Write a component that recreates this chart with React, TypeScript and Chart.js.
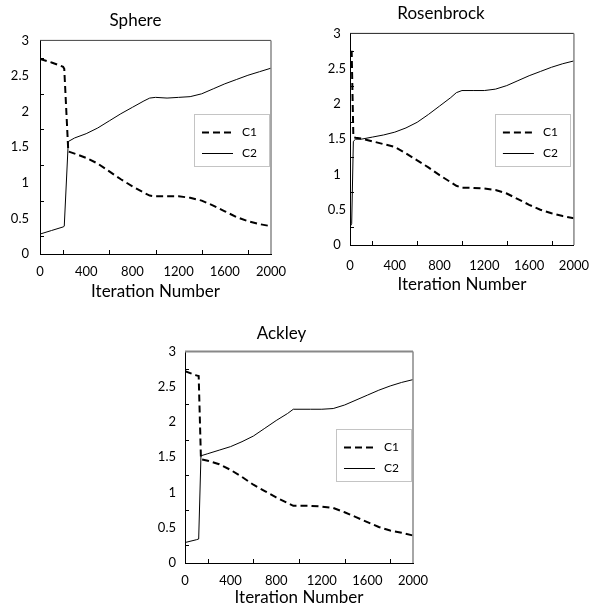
import React, { useEffect, useRef } from "react";
import { Chart, registerables } from "chart.js";

Chart.register(...registerables);

// ---------------- data ----------------
const seriesNames = ["C1", "C2"];
const xAxisTitle = "Iteration Number";
const yMinorTicks = [0.25, 0.75, 1.25, 1.75, 2.25, 2.75];
const xMinorTicks = [200, 600, 1000, 1400, 1800];

const sphereTitle = "Sphere";
const sphereX = [0, 100, 200, 210, 245, 300, 400, 500, 600, 700, 800, 900, 950, 1000, 1100, 1200, 1300, 1400, 1500, 1600, 1700, 1800, 1900, 2000];
const sphereC1 = [2.74, 2.69, 2.63, 2.6, 1.44, 1.41, 1.35, 1.27, 1.16, 1.05, 0.95, 0.86, 0.82, 0.81, 0.81, 0.81, 0.79, 0.75, 0.68, 0.6, 0.52, 0.46, 0.42, 0.39];
const sphereC2 = [0.28, 0.33, 0.38, 0.39, 1.58, 1.63, 1.69, 1.77, 1.87, 1.97, 2.06, 2.15, 2.19, 2.2, 2.19, 2.2, 2.21, 2.25, 2.32, 2.39, 2.45, 2.51, 2.56, 2.61];

const rosenTitle = "Rosenbrock";
const rosenX = [0, 15, 30, 50, 100, 200, 300, 400, 500, 600, 700, 800, 900, 950, 1000, 1100, 1200, 1300, 1400, 1500, 1600, 1700, 1800, 1900, 2000];
const rosenC1 = [2.74, 2.74, 1.53, 1.52, 1.51, 1.47, 1.43, 1.39, 1.3, 1.2, 1.1, 0.99, 0.89, 0.84, 0.81, 0.81, 0.8, 0.78, 0.73, 0.65, 0.57, 0.5, 0.45, 0.41, 0.38];
const rosenC2 = [0.26, 0.3, 1.47, 1.5, 1.5, 1.53, 1.56, 1.6, 1.66, 1.74, 1.85, 1.97, 2.09, 2.16, 2.19, 2.19, 2.19, 2.21, 2.26, 2.33, 2.4, 2.46, 2.52, 2.57, 2.61];

const ackleyTitle = "Ackley";
const ackleyX = [0, 100, 120, 140, 200, 300, 400, 500, 600, 700, 800, 900, 950, 1000, 1100, 1200, 1300, 1400, 1500, 1600, 1700, 1800, 1900, 2000];
const ackleyC1 = [2.72, 2.66, 2.65, 1.47, 1.45, 1.4, 1.32, 1.22, 1.11, 1.02, 0.93, 0.85, 0.81, 0.81, 0.81, 0.8, 0.78, 0.72, 0.65, 0.58, 0.51, 0.46, 0.43, 0.39];
const ackleyC2 = [0.29, 0.33, 0.34, 1.52, 1.55, 1.6, 1.65, 1.72, 1.8, 1.91, 2.02, 2.12, 2.18, 2.18, 2.18, 2.18, 2.19, 2.24, 2.31, 2.38, 2.45, 2.51, 2.56, 2.6];

// ---------------- styling ----------------
const FONT = "Lato, 'Open Sans', sans-serif";

type Spec = {
  title: string;
  xs: number[];
  c1: number[];
  c2: number[];
  left: number;
  top: number;
  width: number;
  height: number;
  yWidth: number;
  xHeight: number;
  padRight: number;
  titlePad: { top: number; bottom: number };
  xLabelPad: number;
  yLabelPad: number;
  yCross: "near" | "center";
  xTitlePadBottom: number;
  legendTopFrac: number;
  legendRightGap: number;
  frameTop: string;
  frameTopWidth: number;
  frameRight: string;
  frameRightWidth: number;
};

const specs: Spec[] = [
  {
    title: sphereTitle, xs: sphereX, c1: sphereC1, c2: sphereC2,
    left: 0, top: 0, width: 300, height: 300,
    yWidth: 40, xHeight: 46, padRight: 29,
    titlePad: { top: 10, bottom: 10 }, xLabelPad: 10, yLabelPad: 11, yCross: "near",
    xTitlePadBottom: 0, legendTopFrac: 0.344, legendRightGap: 2,
    frameTop: "#444", frameTopWidth: 1, frameRight: "#888", frameRightWidth: 1.5,
  },
  {
    title: rosenTitle, xs: rosenX, c1: rosenC1, c2: rosenC2,
    left: 300, top: 0, width: 302, height: 300,
    yWidth: 50, xHeight: 55, padRight: 20,
    titlePad: { top: 3, bottom: 10 }, xLabelPad: 13, yLabelPad: 4, yCross: "center",
    xTitlePadBottom: 6.5, legendTopFrac: 0.381, legendRightGap: 4,
    frameTop: "#222", frameTopWidth: 1, frameRight: "#888", frameRightWidth: 1.5,
  },
  {
    title: ackleyTitle, xs: ackleyX, c1: ackleyC1, c2: ackleyC2,
    left: 150, top: 300, width: 300, height: 307,
    yWidth: 35, xHeight: 44, padRight: 37,
    titlePad: { top: 23, bottom: 8 }, xLabelPad: 10, yLabelPad: 9, yCross: "near",
    xTitlePadBottom: 0.5, legendTopFrac: 0.366, legendRightGap: 2,
    frameTop: "#888", frameTopWidth: 2, frameRight: "#888", frameRightWidth: 1.5,
  },
];

function makePlugins(spec: Spec) {
  const frame = {
    id: "frameLines",
    afterDatasetsDraw(chart: any) {
      const { ctx, chartArea: a } = chart;
      ctx.save();
      ctx.strokeStyle = spec.frameTop;
      ctx.lineWidth = spec.frameTopWidth;
      ctx.beginPath();
      ctx.moveTo(a.left, a.top);
      ctx.lineTo(a.right, a.top);
      ctx.stroke();
      ctx.strokeStyle = spec.frameRight;
      ctx.lineWidth = spec.frameRightWidth;
      ctx.beginPath();
      ctx.moveTo(a.right, a.top);
      ctx.lineTo(a.right, a.bottom);
      ctx.stroke();
      // inner tick marks
      const xs = chart.scales.x;
      const ys = chart.scales.y;
      ctx.strokeStyle = "#000";
      ctx.lineWidth = 1;
      ctx.beginPath();
      for (const v of yMinorTicks) {
        const py = Math.round(ys.getPixelForValue(v)) + 0.5;
        ctx.moveTo(a.left, py);
        ctx.lineTo(a.left + 4, py);
      }
      for (const v of xMinorTicks) {
        const px = Math.round(xs.getPixelForValue(v)) + 0.5;
        ctx.moveTo(px, a.bottom);
        ctx.lineTo(px, a.bottom - 4);
      }
      ctx.stroke();
      ctx.restore();
    },
  };

  const legendBox = {
    id: "legendBox",
    afterDraw(chart: any) {
      const { ctx, chartArea: a } = chart;
      const w = 75;
      const h = 52;
      const right = a.right - spec.legendRightGap;
      const left = right - w;
      const top = a.top + (a.bottom - a.top) * spec.legendTopFrac;
      ctx.save();
      ctx.fillStyle = "#fff";
      ctx.fillRect(left, top, w, h);
      ctx.strokeStyle = "#c4c4c4";
      ctx.lineWidth = 1;
      ctx.strokeRect(Math.round(left) + 0.5, Math.round(top) + 0.5, w, h);
      chart.data.datasets.forEach((ds: any, i: number) => {
        const y = Math.round(top + 18 + i * 21) + 0.5;
        ctx.strokeStyle = ds.borderColor;
        ctx.lineWidth = ds.borderWidth;
        ctx.setLineDash(ds.borderDash || []);
        ctx.beginPath();
        ctx.moveTo(left + 8, y);
        ctx.lineTo(left + 39, y);
        ctx.stroke();
        ctx.setLineDash([]);
        ctx.fillStyle = "#000";
        ctx.font = `12px ${FONT}`;
        ctx.textBaseline = "middle";
        ctx.textAlign = "left";
        ctx.fillText(ds.label, left + 48, y);
      });
      ctx.restore();
    },
  };
  return [frame, legendBox];
}

function buildChart(canvas: HTMLCanvasElement, spec: Spec) {
  const c1 = spec.xs.map((x, i) => ({ x, y: spec.c1[i] }));
  const c2 = spec.xs.map((x, i) => ({ x, y: spec.c2[i] }));
  return new Chart(canvas, {
    type: "scatter",
    data: {
      datasets: [
        {
          label: seriesNames[0],
          data: c1,
          showLine: true,
          borderColor: "#000",
          backgroundColor: "#000",
          borderWidth: 2,
          borderDash: [7, 4],
          pointRadius: 0,
          tension: 0,
        },
        {
          label: seriesNames[1],
          data: c2,
          showLine: true,
          borderColor: "#000",
          backgroundColor: "#000",
          borderWidth: 1,
          pointRadius: 0,
          tension: 0,
        },
      ],
    },
    options: {
      responsive: false,
      animation: false,
      events: [],
      layout: { padding: { left: 0, top: 0, right: spec.padRight, bottom: 0 } },
      plugins: {
        legend: { display: false },
        tooltip: { enabled: false },
        title: {
          display: true,
          text: spec.title,
          color: "#000",
          font: { family: FONT, size: 17, weight: "normal" },
          padding: spec.titlePad,
        },
      },
      scales: {
        x: {
          type: "linear",
          min: 0,
          max: 2000,
          ticks: {
            stepSize: 400,
            color: "#000",
            font: { family: FONT, size: 13 },
            padding: spec.xLabelPad,
            maxRotation: 0,
            autoSkip: false,
            callback: (v: any) => String(v),
          },
          grid: { display: false, drawTicks: false },
          border: { display: true, color: "#000", width: 1 },
          title: {
            display: true,
            text: xAxisTitle,
            color: "#000",
            font: { family: FONT, size: 17, lineHeight: 1 },
            padding: { top: 0, bottom: spec.xTitlePadBottom },
          },
          afterFit: (s: any) => {
            s.height = spec.xHeight;
          },
        },
        y: {
          type: "linear",
          min: 0,
          max: 3,
          ticks: {
            stepSize: 0.5,
            color: "#000",
            font: { family: FONT, size: 13 },
            padding: spec.yLabelPad,
            crossAlign: spec.yCross,
            callback: (v: any) => String(v),
          },
          grid: { display: false, drawTicks: false },
          border: { display: true, color: "#000", width: 1 },
          afterFit: (s: any) => {
            s.width = spec.yWidth;
          },
        },
      },
    } as any,
    plugins: makePlugins(spec) as any,
  });
}

function ChartBox({ spec }: { spec: Spec }) {
  const ref = useRef<HTMLCanvasElement>(null);
  useEffect(() => {
    if (!ref.current) return;
    const chart = buildChart(ref.current, spec);
    return () => chart.destroy();
  }, [spec]);
  return (
    <canvas
      ref={ref}
      width={spec.width}
      height={spec.height}
      style={{
        position: "absolute",
        left: spec.left,
        top: spec.top,
        width: spec.width,
        height: spec.height,
      }}
    />
  );
}

export default function App() {
  return (
    <div
      style={{
        position: "absolute",
        left: 0,
        top: 0,
        width: 602,
        height: 607,
        background: "#fff",
      }}
    >
      {specs.map((s) => (
        <ChartBox key={s.title} spec={s} />
      ))}
    </div>
  );
}
